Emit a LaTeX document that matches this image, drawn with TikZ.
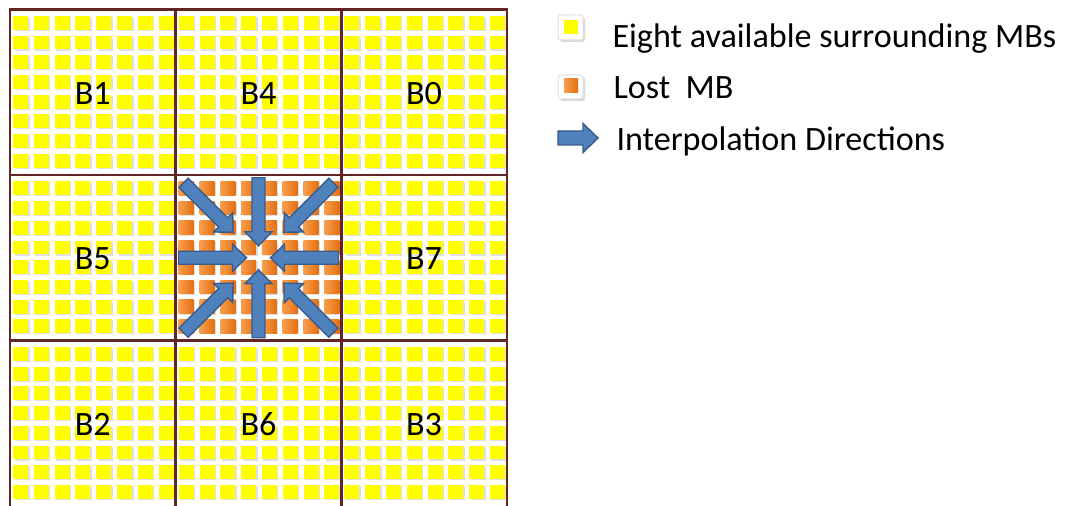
\documentclass[tikz,border=0pt]{standalone}
\usepackage{fontspec}
\setmainfont{Carlito}

\definecolor{mbyellow}{RGB}{255,255,0}
\definecolor{mbline}{RGB}{99,37,35}
\definecolor{lostlight}{RGB}{248,158,78}
\definecolor{lostdark}{RGB}{228,110,16}
\definecolor{dirfill}{RGB}{79,129,189}
\definecolor{dirdraw}{RGB}{56,93,138}

\tikzset{every picture/.style={line width=0.75pt}}

\begin{document}
\begin{tikzpicture}[x=0.75pt,y=0.75pt,yscale=-1,xscale=1,
  avail/.style={fill=mbyellow},
  lost/.style={left color=lostlight, right color=lostdark},
  mbshade/.style={fill=black!12},
  mbgrid/.style={draw=mbline, line width=1.9pt, line cap=rect},
  dirarrow/.style={fill=dirfill, draw=dirdraw, line width=1.1pt, line join=miter},
  keybox/.style={fill=white, draw=black!12, rounded corners=2pt},
  lbl/.style={font=\fontsize{25.6}{30}\selectfont, inner sep=0pt}]
\useasboundingbox (0,0) rectangle (1068,506);

%Shape: available MBs, 8x8 squares per block
\foreach \bx/\by/\name in {10/9.5/B1, 175.7/9.5/B4, 341.3/9.5/B0, 10/175/B5, 341.3/175/B7, 10/340.5/B2, 175.7/340.5/B6, 341.3/340.5/B3}
{
  \foreach \i in {0,...,7}
    \foreach \j in {0,...,7}
    {
      \fill[mbshade] (\bx+4.5+20.8*\i,\by+7.5+19.7*\j) rectangle ++(15,14);
      \fill[avail] (\bx+3+20.8*\i,\by+6.5+19.7*\j) rectangle ++(15,13.8);
    }
  % Text Node
  \node[lbl] (\name) at (\bx+82.8,\by+84) {\name};
}

%Shape: lost MB in the middle
\foreach \i in {0,...,7}
  \foreach \j in {0,...,7}
  {
    \fill[mbshade] (180.2+20.8*\i,182.5+19.7*\j) rectangle ++(15,14);
    \shade[lost] (178.7+20.8*\i,181.5+19.7*\j) rectangle ++(15,13.8);
  }

%Shape: block borders
\draw[mbgrid] (10,9.5) -- (507,9.5);
\draw[mbgrid] (10,175) -- (507,175);
\draw[mbgrid] (10,340.5) -- (507,340.5);
\foreach \gx in {10,175.7,341.3,507}
  \draw[mbgrid] (\gx,9.5) -- (\gx,512);

%Shape: interpolation arrows towards the lost MB centre
\coordinate (lostc) at (258.5,257.75);
\foreach \ang/\tip/\tail in {0/12/80, 90/12/80, 180/12/80, 270/12/80, 45/36/106, 135/36/106, 225/36/106, 315/36/106}
  \draw[dirarrow, shift={(lostc)}, rotate=\ang] (\tip,0) -- (\tip+14,13.5) -- (\tip+14,6.5) -- (\tail,6.5) -- (\tail,-6.5) -- (\tip+14,-6.5) -- (\tip+14,-13.5) -- cycle;

%Shape: legend keys
\fill[black!15, rounded corners=2pt] (560,17) rectangle (585,42);
\path[keybox] (558,15) rectangle (583,40);
\fill[avail] (564,20) rectangle (578,34);
\fill[black!15, rounded corners=2pt] (560,77) rectangle (585,101);
\path[keybox] (558,75) rectangle (583,99);
\shade[lost] (564,78.5) rectangle (578,93);
\draw[dirarrow] (558,131) -- (583,131) -- (583,123.5) -- (598,138) -- (583,152.5) -- (583,145) -- (558,145) -- cycle;

% Text Node
\node[lbl, anchor=base west] (keyavail) at (612,48) {Eight available surrounding MBs};
% Text Node
\node[lbl, anchor=base west] (keylost) at (613,98.5) {Lost\ \ MB};
% Text Node
\node[lbl, anchor=base west] (keydir) at (616,151) {Interpolation Directions};

\end{tikzpicture}
\end{document}
